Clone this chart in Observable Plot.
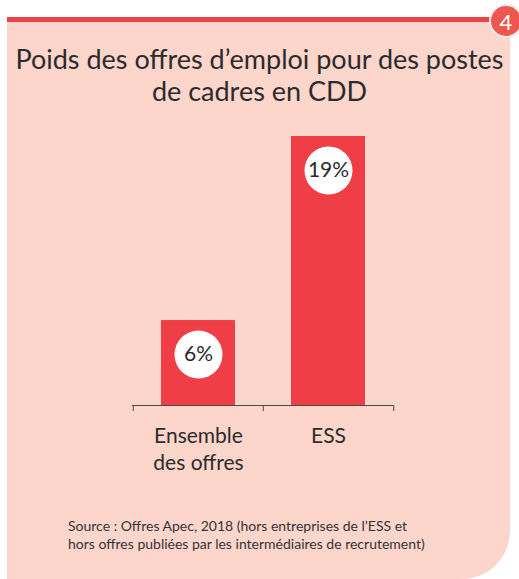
<!DOCTYPE html>
<html>
<head>
<meta charset="utf-8">
<script src="https://cdn.jsdelivr.net/npm/d3@7"></script>
<script src="https://cdn.jsdelivr.net/npm/@observablehq/plot@0.6"></script>
<style>
  html, body { margin: 0; padding: 0; background: #ffffff; }
  body { width: 519px; height: 579px; position: relative; overflow: hidden; font-family: Lato, "Open Sans", sans-serif; }
  #panel2 { position: absolute; left: 7px; top: 22px; width: 503px; height: 557px; background: #fcd5cb; border-bottom-right-radius: 48px; }
  #redline { position: absolute; left: 7px; top: 17px; width: 490px; height: 5px; background: #ec4249; }
  #badge { position: absolute; left: 489px; top: 4px; width: 34px; height: 34px; border-radius: 50%; background: #ee574f; border: 2px solid #ececec; box-sizing: border-box; color: #fff; font-size: 22px; text-align: center; line-height: 31px; }
  #title { position: absolute; left: 0; top: 43px; width: 519px; text-align: center; font-size: 27px; line-height: 32px; color: #2b2b2b; }
  #chart { position: absolute; left: 0; top: 120px; }
  #source { position: absolute; left: 68px; top: 517px; font-size: 14px; line-height: 18px; color: #333; }
</style>
</head>
<body>
<div id="panel2"></div>
<div id="redline"></div>
<div id="badge">4</div>
<div id="title">Poids des offres d’emploi pour des postes<br>de cadres en CDD</div>
<div id="chart"></div>
<div id="source">Source : Offres Apec, 2018 (hors entreprises de l’ESS et<br>hors offres publiées par les intermédiaires de recrutement)</div>
<script>
const categories = ["Ensemble\ndes offres", "ESS"];
const values = [6, 19];
const data = categories.map((c, i) => ({category: c, value: values[i]}));

const W = 519, H = 360;
const mLeft = 132, mRight = 126;
const step = (W - mLeft - mRight) / categories.length;

const plot = Plot.plot({
  width: W,
  height: H,
  marginLeft: mLeft,
  marginRight: mRight,
  marginTop: 16,
  marginBottom: 75,
  style: {background: "transparent", fontFamily: "Lato, 'Open Sans', sans-serif", color: "#2b2b2b"},
  x: {domain: categories, padding: 0, label: null},
  y: {domain: [0, 19], axis: null},
  marks: [
    Plot.barY(data, {x: "category", y: "value", fill: "#ef3e46", insetLeft: 28, insetRight: 28}),
    Plot.ruleY([0], {stroke: "#4a4a4a", strokeWidth: 1}),
    Plot.ruleX(categories, {x: d => d, y1: 0, y2: 0, dx: -step / 2, insetBottom: -6, stroke: "#4a4a4a"}),
    Plot.ruleX([categories[categories.length - 1]], {x: d => d, y1: 0, y2: 0, dx: step / 2, insetBottom: -6, stroke: "#4a4a4a"}),
    Plot.axisX({tickSize: 0, tickPadding: 18, fontSize: 21, lineHeight: 1.3, fill: "#2b2b2b", label: null}),
    Plot.dot(data, {x: "category", y: "value", dy: 34, r: 24, fill: "white", stroke: null}),
    Plot.text(data, {x: "category", y: "value", dy: 34, text: d => d.value + "%", fontSize: 21, fill: "#2b2b2b"})
  ]
});
document.getElementById("chart").appendChild(plot);
</script>
</body>
</html>
